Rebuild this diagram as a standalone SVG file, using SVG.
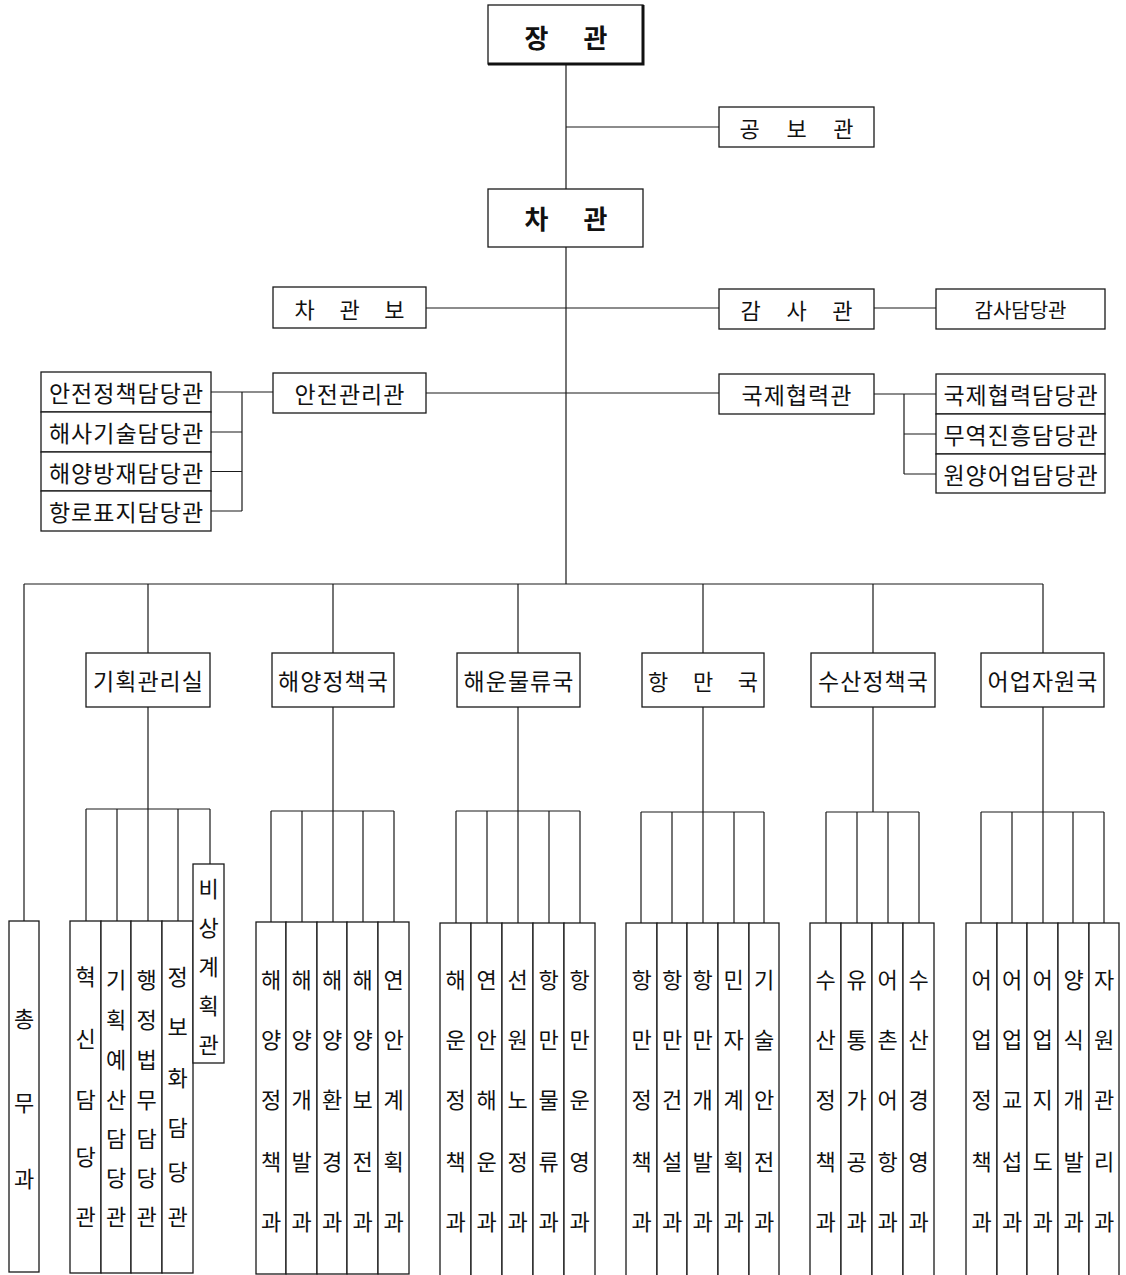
<svg xmlns="http://www.w3.org/2000/svg" width="1126" height="1275" viewBox="0 0 1126 1275">
<style>
.b{fill:#fff;stroke:#1a1a1a;stroke-width:1.3}
.c{fill:none;stroke:#1a1a1a;stroke-width:1.2}
.t{font-family:"Noto Sans CJK KR","Noto Sans",sans-serif;font-size:23px;letter-spacing:1px;fill:#111;text-anchor:middle;dominant-baseline:central}
.s{font-size:22px;letter-spacing:0}
.v{font-size:22px;letter-spacing:0}
.big{font-size:26px;font-weight:bold;letter-spacing:0}
</style>
<rect width="1126" height="1275" fill="#fff"/>
<g id="connectors" class="c">
<path d="M566,64V189M566,127H719M566,247V584M426,308H719M874,308H936M426,393H719"/>
<path d="M211,392H273M242,392V511M211,432H242M211,471.5H242M211,511H242"/>
<path d="M874,394H936M904,394V474M904,434H936M904,474H936"/>
<path d="M24,584H1043M24,584V921M148,584V653M333,584V653M518,584V653M703,584V653M873,584V653M1043,584V653"/>
<path d="M148,707V921M86,809H210M86,809V921M117,809V921M178,809V921M210,809V864"/>
<path d="M333,707V922M271,811H394M271,811V922M302,811V922M363,811V922M394,811V922"/>
<path d="M518,707V923M456,811H580M456,811V923M487,811V923M549,811V923M580,811V923"/>
<path d="M703,707V923M641,812H764M641,812V923M672,812V923M734,812V923M764,812V923"/>
<path d="M873,707V812M826,812H919M826,812V923M857,812V923M888,812V923M919,812V923"/>
<path d="M1043,707V923M981,812H1104M981,812V923M1012,812V923M1073,812V923M1104,812V923"/>
</g>
<g id="n-janggwan"><rect class="b" x="488" y="5" width="155" height="59"/><path d="M643,5V64H488" fill="none" stroke="#111" stroke-width="3"/><text class="t big" x="566" y="36" textLength="83" lengthAdjust="spacing">장 관</text></g>
<g id="n-gongbo"><rect class="b" x="719" y="107" width="155" height="40"/><text class="t s" x="796.5" y="127" textLength="114" lengthAdjust="spacing">공 보 관</text></g>
<g id="n-chagwan"><rect class="b" x="488" y="189" width="155" height="58"/><text class="t big" x="566" y="217" textLength="83" lengthAdjust="spacing">차 관</text></g>
<g id="n-chagwanbo"><rect class="b" x="273" y="287" width="153" height="41"/><text class="t s" x="349.5" y="307.5" textLength="110" lengthAdjust="spacing">차 관 보</text></g>
<g id="n-gamsa"><rect class="b" x="719" y="289" width="155" height="40"/><text class="t s" x="796.5" y="309" textLength="112" lengthAdjust="spacing">감 사 관</text></g>
<g id="n-gamsadamdang"><rect class="b" x="936" y="289" width="169" height="40"/><text class="t" style="font-size:20px;letter-spacing:0" x="1020.5" y="309">감사담당관</text></g>
<g id="n-anjeon"><rect class="b" x="273" y="373" width="153" height="40"/><text class="t" x="350" y="393">안전관리관</text></g>
<g id="n-gukje"><rect class="b" x="719" y="374" width="155" height="40"/><text class="t" x="797" y="394">국제협력관</text></g>
<g id="n-l1"><rect class="b" x="41" y="372" width="170" height="40"/><text class="t" x="126.5" y="392">안전정책담당관</text></g>
<g id="n-l2"><rect class="b" x="41" y="412" width="170" height="40"/><text class="t" x="126.5" y="432">해사기술담당관</text></g>
<g id="n-l3"><rect class="b" x="41" y="452" width="170" height="39"/><text class="t" x="126.5" y="471.5">해양방재담당관</text></g>
<g id="n-l4"><rect class="b" x="41" y="491" width="170" height="40"/><text class="t" x="126.5" y="511">항로표지담당관</text></g>
<g id="n-r1"><rect class="b" x="936" y="374" width="169" height="40"/><text class="t" x="1021" y="394">국제협력담당관</text></g>
<g id="n-r2"><rect class="b" x="936" y="414" width="169" height="40"/><text class="t" x="1021" y="434">무역진흥담당관</text></g>
<g id="n-r3"><rect class="b" x="936" y="454" width="169" height="39"/><text class="t" x="1021" y="473.5">원양어업담당관</text></g>
<g id="n-b1"><rect class="b" x="86" y="653" width="124" height="54"/><text class="t" x="148.5" y="680">기획관리실</text></g>
<g id="n-b2"><rect class="b" x="272" y="653" width="122" height="54"/><text class="t" x="333.5" y="680">해양정책국</text></g>
<g id="n-b3"><rect class="b" x="457" y="653" width="123" height="54"/><text class="t" x="519" y="680">해운물류국</text></g>
<g id="n-b4"><rect class="b" x="642" y="653" width="122" height="54"/><text class="t s" x="703" y="680" textLength="110" lengthAdjust="spacing">항 만 국</text></g>
<g id="n-b5"><rect class="b" x="811" y="653" width="124" height="54"/><text class="t" x="873.5" y="680">수산정책국</text></g>
<g id="n-b6"><rect class="b" x="981" y="653" width="123" height="54"/><text class="t" x="1043" y="680">어업자원국</text></g>
<g id="n-chongmu"><rect class="b" x="9" y="921" width="30" height="351"/><text class="t v"><tspan x="24" y="1017">총</tspan><tspan x="24" y="1101">무</tspan><tspan x="24" y="1177">과</tspan></text></g>
<g id="n-k1"><rect class="b" x="70" y="921" width="31" height="352"/><text class="t v"><tspan x="85.5" y="975">혁</tspan><tspan x="85.5" y="1037">신</tspan><tspan x="85.5" y="1098">담</tspan><tspan x="85.5" y="1155">당</tspan><tspan x="85.5" y="1215">관</tspan></text></g>
<g id="n-k2"><rect class="b" x="101" y="921" width="30" height="352"/><text class="t v"><tspan x="116" y="978">기</tspan><tspan x="116" y="1018">획</tspan><tspan x="116" y="1058">예</tspan><tspan x="116" y="1098">산</tspan><tspan x="116" y="1137">담</tspan><tspan x="116" y="1176">당</tspan><tspan x="116" y="1215">관</tspan></text></g>
<g id="n-k3"><rect class="b" x="131" y="921" width="31" height="352"/><text class="t v"><tspan x="146.5" y="978">행</tspan><tspan x="146.5" y="1018">정</tspan><tspan x="146.5" y="1058">법</tspan><tspan x="146.5" y="1098">무</tspan><tspan x="146.5" y="1137">담</tspan><tspan x="146.5" y="1176">당</tspan><tspan x="146.5" y="1215">관</tspan></text></g>
<g id="n-k4"><rect class="b" x="162" y="921" width="31" height="352"/><text class="t v"><tspan x="177.5" y="975">정</tspan><tspan x="177.5" y="1025">보</tspan><tspan x="177.5" y="1076">화</tspan><tspan x="177.5" y="1126">담</tspan><tspan x="177.5" y="1170">당</tspan><tspan x="177.5" y="1215">관</tspan></text></g>
<g id="n-k5"><rect class="b" x="193" y="864" width="31" height="199"/><text class="t v"><tspan x="208.5" y="887">비</tspan><tspan x="208.5" y="926">상</tspan><tspan x="208.5" y="965">계</tspan><tspan x="208.5" y="1004">획</tspan><tspan x="208.5" y="1043">관</tspan></text></g>
<g id="n-h1"><rect class="b" x="256" y="922" width="30" height="352"/><text class="t v"><tspan x="271" y="978">해</tspan><tspan x="271" y="1038">양</tspan><tspan x="271" y="1098">정</tspan><tspan x="271" y="1160">책</tspan><tspan x="271" y="1220">과</tspan></text></g>
<g id="n-h2"><rect class="b" x="286" y="922" width="31" height="352"/><text class="t v"><tspan x="301.5" y="978">해</tspan><tspan x="301.5" y="1038">양</tspan><tspan x="301.5" y="1098">개</tspan><tspan x="301.5" y="1160">발</tspan><tspan x="301.5" y="1220">과</tspan></text></g>
<g id="n-h3"><rect class="b" x="317" y="922" width="30" height="352"/><text class="t v"><tspan x="332" y="978">해</tspan><tspan x="332" y="1038">양</tspan><tspan x="332" y="1098">환</tspan><tspan x="332" y="1160">경</tspan><tspan x="332" y="1220">과</tspan></text></g>
<g id="n-h4"><rect class="b" x="347" y="922" width="31" height="352"/><text class="t v"><tspan x="362.5" y="978">해</tspan><tspan x="362.5" y="1038">양</tspan><tspan x="362.5" y="1098">보</tspan><tspan x="362.5" y="1160">전</tspan><tspan x="362.5" y="1220">과</tspan></text></g>
<g id="n-h5"><rect class="b" x="378" y="922" width="31" height="352"/><text class="t v"><tspan x="393.5" y="978">연</tspan><tspan x="393.5" y="1038">안</tspan><tspan x="393.5" y="1098">계</tspan><tspan x="393.5" y="1160">획</tspan><tspan x="393.5" y="1220">과</tspan></text></g>
<g id="n-u1"><rect class="b" x="440" y="923" width="31" height="360"/><text class="t v"><tspan x="455.5" y="978">해</tspan><tspan x="455.5" y="1038">운</tspan><tspan x="455.5" y="1098">정</tspan><tspan x="455.5" y="1160">책</tspan><tspan x="455.5" y="1220">과</tspan></text></g>
<g id="n-u2"><rect class="b" x="471" y="923" width="31" height="360"/><text class="t v"><tspan x="486.5" y="978">연</tspan><tspan x="486.5" y="1038">안</tspan><tspan x="486.5" y="1098">해</tspan><tspan x="486.5" y="1160">운</tspan><tspan x="486.5" y="1220">과</tspan></text></g>
<g id="n-u3"><rect class="b" x="502" y="923" width="31" height="360"/><text class="t v"><tspan x="517.5" y="978">선</tspan><tspan x="517.5" y="1038">원</tspan><tspan x="517.5" y="1098">노</tspan><tspan x="517.5" y="1160">정</tspan><tspan x="517.5" y="1220">과</tspan></text></g>
<g id="n-u4"><rect class="b" x="533" y="923" width="31" height="360"/><text class="t v"><tspan x="548.5" y="978">항</tspan><tspan x="548.5" y="1038">만</tspan><tspan x="548.5" y="1098">물</tspan><tspan x="548.5" y="1160">류</tspan><tspan x="548.5" y="1220">과</tspan></text></g>
<g id="n-u5"><rect class="b" x="564" y="923" width="31" height="360"/><text class="t v"><tspan x="579.5" y="978">항</tspan><tspan x="579.5" y="1038">만</tspan><tspan x="579.5" y="1098">운</tspan><tspan x="579.5" y="1160">영</tspan><tspan x="579.5" y="1220">과</tspan></text></g>
<g id="n-p1"><rect class="b" x="626" y="923" width="31" height="360"/><text class="t v"><tspan x="641.5" y="978">항</tspan><tspan x="641.5" y="1038">만</tspan><tspan x="641.5" y="1098">정</tspan><tspan x="641.5" y="1160">책</tspan><tspan x="641.5" y="1220">과</tspan></text></g>
<g id="n-p2"><rect class="b" x="657" y="923" width="30" height="360"/><text class="t v"><tspan x="672" y="978">항</tspan><tspan x="672" y="1038">만</tspan><tspan x="672" y="1098">건</tspan><tspan x="672" y="1160">설</tspan><tspan x="672" y="1220">과</tspan></text></g>
<g id="n-p3"><rect class="b" x="687" y="923" width="31" height="360"/><text class="t v"><tspan x="702.5" y="978">항</tspan><tspan x="702.5" y="1038">만</tspan><tspan x="702.5" y="1098">개</tspan><tspan x="702.5" y="1160">발</tspan><tspan x="702.5" y="1220">과</tspan></text></g>
<g id="n-p4"><rect class="b" x="718" y="923" width="31" height="360"/><text class="t v"><tspan x="733.5" y="978">민</tspan><tspan x="733.5" y="1038">자</tspan><tspan x="733.5" y="1098">계</tspan><tspan x="733.5" y="1160">획</tspan><tspan x="733.5" y="1220">과</tspan></text></g>
<g id="n-p5"><rect class="b" x="749" y="923" width="30" height="360"/><text class="t v"><tspan x="764" y="978">기</tspan><tspan x="764" y="1038">술</tspan><tspan x="764" y="1098">안</tspan><tspan x="764" y="1160">전</tspan><tspan x="764" y="1220">과</tspan></text></g>
<g id="n-f1"><rect class="b" x="810" y="923" width="31" height="360"/><text class="t v"><tspan x="825.5" y="978">수</tspan><tspan x="825.5" y="1038">산</tspan><tspan x="825.5" y="1098">정</tspan><tspan x="825.5" y="1160">책</tspan><tspan x="825.5" y="1220">과</tspan></text></g>
<g id="n-f2"><rect class="b" x="841" y="923" width="31" height="360"/><text class="t v"><tspan x="856.5" y="978">유</tspan><tspan x="856.5" y="1038">통</tspan><tspan x="856.5" y="1098">가</tspan><tspan x="856.5" y="1160">공</tspan><tspan x="856.5" y="1220">과</tspan></text></g>
<g id="n-f3"><rect class="b" x="872" y="923" width="31" height="360"/><text class="t v"><tspan x="887.5" y="978">어</tspan><tspan x="887.5" y="1038">촌</tspan><tspan x="887.5" y="1098">어</tspan><tspan x="887.5" y="1160">항</tspan><tspan x="887.5" y="1220">과</tspan></text></g>
<g id="n-f4"><rect class="b" x="903" y="923" width="31" height="360"/><text class="t v"><tspan x="918.5" y="978">수</tspan><tspan x="918.5" y="1038">산</tspan><tspan x="918.5" y="1098">경</tspan><tspan x="918.5" y="1160">영</tspan><tspan x="918.5" y="1220">과</tspan></text></g>
<g id="n-e1"><rect class="b" x="966" y="923" width="31" height="360"/><text class="t v"><tspan x="981.5" y="978">어</tspan><tspan x="981.5" y="1038">업</tspan><tspan x="981.5" y="1098">정</tspan><tspan x="981.5" y="1160">책</tspan><tspan x="981.5" y="1220">과</tspan></text></g>
<g id="n-e2"><rect class="b" x="997" y="923" width="30" height="360"/><text class="t v"><tspan x="1012" y="978">어</tspan><tspan x="1012" y="1038">업</tspan><tspan x="1012" y="1098">교</tspan><tspan x="1012" y="1160">섭</tspan><tspan x="1012" y="1220">과</tspan></text></g>
<g id="n-e3"><rect class="b" x="1027" y="923" width="31" height="360"/><text class="t v"><tspan x="1042.5" y="978">어</tspan><tspan x="1042.5" y="1038">업</tspan><tspan x="1042.5" y="1098">지</tspan><tspan x="1042.5" y="1160">도</tspan><tspan x="1042.5" y="1220">과</tspan></text></g>
<g id="n-e4"><rect class="b" x="1058" y="923" width="31" height="360"/><text class="t v"><tspan x="1073.5" y="978">양</tspan><tspan x="1073.5" y="1038">식</tspan><tspan x="1073.5" y="1098">개</tspan><tspan x="1073.5" y="1160">발</tspan><tspan x="1073.5" y="1220">과</tspan></text></g>
<g id="n-e5"><rect class="b" x="1089" y="923" width="30" height="360"/><text class="t v"><tspan x="1104" y="978">자</tspan><tspan x="1104" y="1038">원</tspan><tspan x="1104" y="1098">관</tspan><tspan x="1104" y="1160">리</tspan><tspan x="1104" y="1220">과</tspan></text></g>
</svg>
